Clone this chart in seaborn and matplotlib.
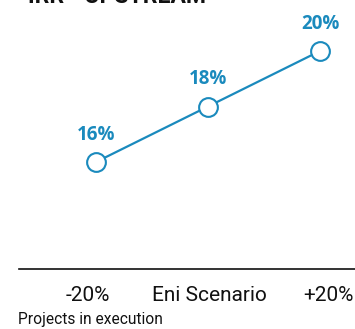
import matplotlib
matplotlib.use("Agg")
import matplotlib.pyplot as plt
import matplotlib.transforms as mtransforms
import seaborn as sns
import pandas as pd

categories = ["-20%", "Eni Scenario", "+20%"]
irr_values = [16, 18, 20]
value_labels = ["16%", "18%", "20%"]
title = "IRR - UPSTREAM"
footnote = "Projects in execution"

sns.set_theme(style="white")
plt.rcParams['font.family'] = ['Roboto', 'DejaVu Sans']

color = "#1A8ABD"
df = pd.DataFrame({"x": range(len(categories)), "irr": irr_values})

fig = plt.figure(figsize=(3.55, 3.29), dpi=100)
ax = fig.add_axes([19/355, (329-269)/329, 336/355, 269/329])
sns.lineplot(data=df, x="x", y="irr", ax=ax, color=color, linewidth=1.6,
             marker="o", markersize=13.5, markerfacecolor="white",
             markeredgecolor=color, markeredgewidth=1.5)

ax.set_xlim(-0.6875, 2.3125)
ax.set_ylim(16 - 107/27.75, 16 + 162/27.75)
for i, (v, lab) in enumerate(zip(irr_values, value_labels)):
    ax.annotate(lab, (i, v), xytext=(0, 19.5), textcoords="offset points",
                ha="center", va="center", fontsize=13.5, fontweight="bold",
                color=color, family=['Open Sans', 'DejaVu Sans'])

ax.set_xticks(range(len(categories)))
ax.set_xticklabels(categories, fontsize=15, color="#111111")
ax.tick_params(axis="x", length=0, pad=12)
shifts = [-8, 1.5, 8]
for lbl, dx in zip(ax.get_xticklabels(), shifts):
    lbl.set_transform(lbl.get_transform() +
                      mtransforms.ScaledTranslation(dx/100, 0, fig.dpi_scale_trans))
ax.set_yticks([])
ax.set_xlabel("")
ax.set_ylabel("")
for s in ["top", "left", "right"]:
    ax.spines[s].set_visible(False)
ax.spines["bottom"].set_color("#111111")
ax.spines["bottom"].set_linewidth(1.2)

fig.text(28/355, 1 - 3/329, title, fontsize=16.5, fontweight="bold",
         color="#111111", ha="left", va="baseline")
fig.text(18/355, 5/329, footnote, fontsize=11.2, color="#111111",
         ha="left", va="baseline")

fig.savefig("out.png", dpi=100)
